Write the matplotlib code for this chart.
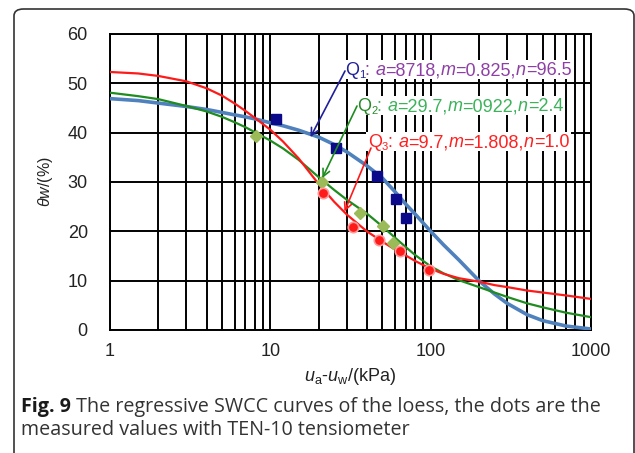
import numpy as np
import matplotlib
matplotlib.use("Agg")
import matplotlib.pyplot as plt
from matplotlib.patches import Rectangle, FancyBboxPatch

plt.rcParams['font.family'] = ['Liberation Sans', 'DejaVu Sans']
plt.rcParams['mathtext.fontset'] = 'custom'
plt.rcParams['mathtext.rm'] = 'Liberation Sans'
plt.rcParams['mathtext.it'] = 'Liberation Sans:italic'

# curves
suction = [1, 1.5, 2, 3, 4, 5, 6, 7, 8, 10, 12, 15, 20, 25, 30, 40, 50, 60, 70, 80,
           100, 120, 150, 200, 250, 300, 400, 500, 700, 1000]
q1_curve = [46.9, 46.5, 46.0, 45.3, 44.7, 44.1, 43.6, 43.2, 42.8, 42.0, 41.4, 40.5, 39.1, 37.6, 36.1,
            33.3, 30.8, 28.0, 25.5, 23.5, 20.0, 17.3, 14.2, 10.0, 7.3, 5.4, 3.1, 1.9, 0.8, 0.2]
q2_curve = [48.1, 47.4, 46.8, 45.4, 44.3, 43.2, 42.1, 41.1, 40.1, 38.4, 36.8, 34.5, 31.0, 28.4, 26.4,
            23.6, 21.0, 18.7, 16.8, 15.2, 12.9, 11.5, 10.1, 8.7, 7.6, 6.7, 5.4, 4.6, 3.5, 2.6]
q3_curve = [52.3, 52.0, 51.5, 50.4, 49.0, 47.5, 45.9, 44.4, 43.0, 40.6, 38.2, 34.8, 29.6, 26.0, 23.4,
            20.0, 17.9, 16.3, 15.1, 14.0, 12.4, 11.4, 10.5, 9.8, 9.1, 8.7, 8.0, 7.6, 7.0, 6.3]

# measured points
q1_x = [10.9, 25.5, 46, 60.4, 69.8]
q1_y = [42.8, 36.9, 31.2, 26.6, 22.7]
q2_x = [8.1, 21.1, 36, 50.1, 57.9]
q2_y = [39.4, 30.0, 23.7, 21.1, 17.6]
q3_x = [21.4, 33, 47.3, 64, 97.2]
q3_y = [27.8, 20.9, 18.3, 16.0, 12.2]

W, H = 635, 453
fig = plt.figure(figsize=(W / 100, H / 100), dpi=100)
ax = fig.add_axes([110 / W, 1 - 330 / H, 481 / W, 296 / H])
ax.set_xscale('log')
ax.set_xlim(1, 1000)
ax.set_ylim(0, 60)
ax.set_yticks(range(0, 61, 10))
ax.set_xticks([1, 10, 100, 1000])
ax.set_xticklabels(['1', '10', '100', '1000'])
ax.set_axisbelow(True)
ax.grid(True, which='both', axis='x', color='black', lw=1.4)
ax.grid(True, which='major', axis='y', color='black', lw=1.4)
ax.tick_params(which='both', length=0, labelsize=13, colors='#222222')
ax.tick_params(axis='y', pad=16)
ax.tick_params(axis='x', pad=9)
for s in ax.spines.values():
    s.set_linewidth(1.4)

ax.plot(suction, q1_curve, color='#4f81bd', lw=2.6, zorder=3)
ax.plot(suction, q2_curve, color='#1e8c1e', lw=1.6, zorder=3)
ax.plot(suction, q3_curve, color='#ff1a1a', lw=1.6, zorder=3)
ax.plot(q1_x, q1_y, 's', color='#0a0a8a', ms=7, zorder=4)
ax.plot(q2_x, q2_y, 'D', color='#9bbb59', ms=6, zorder=4)
ax.plot(q3_x, q3_y, 'o', color='#ff1a1a', mec='#ff9a9a', mew=1.2, ms=7.5, zorder=4)

ax.set_xlabel(r'$u_{\rm a}$-$u_{\rm w}$/(kPa)', fontsize=13, labelpad=5, color='#222222')
ax.set_ylabel(r'$θw$/(%)', fontsize=11.5, labelpad=9, color='#222222')

renderer = fig.canvas.get_renderer()


def rich(x, y, pieces, fs, family='Liberation Sans', box=False):
    # x, y in image pixels (y from top, baseline)
    x0 = x
    for txt, col, style, weight, sub in pieces:
        size = fs * 0.62 if sub else fs
        yy = y + (3 if sub else 0)
        t = fig.text(x / W, 1 - yy / H, txt, color=col, fontsize=size, style=style,
                     weight=weight, family=family, va='baseline', ha='left', zorder=5)
        x += t.get_window_extent(renderer).width
    if box:
        ax.add_patch(Rectangle(((x0 - 2) / W, 1 - (y + 4) / H), (x - x0 + 4) / W, 19 / H,
                               transform=fig.transFigure, facecolor='white',
                               edgecolor='none', zorder=1))
    return x


rich(345, 75, [('Q', '#1f1f9a', 'normal', 'normal', False),
               ('1', '#1f1f9a', 'normal', 'normal', True),
               (': ', '#8e3fa5', 'normal', 'normal', False),
               ('a', '#8e3fa5', 'italic', 'normal', False),
               ('=8718,', '#8e3fa5', 'normal', 'normal', False),
               ('m', '#8e3fa5', 'italic', 'normal', False),
               ('=0.825,', '#8e3fa5', 'normal', 'normal', False),
               ('n', '#8e3fa5', 'italic', 'normal', False),
               ('=96.5', '#8e3fa5', 'normal', 'normal', False)], 13, box=True)
rich(357, 111, [('Q', '#2a8a2a', 'normal', 'normal', False),
                ('2', '#2a8a2a', 'normal', 'normal', True),
                (': ', '#3cb35a', 'normal', 'normal', False),
                ('a', '#3cb35a', 'italic', 'normal', False),
                ('=29.7,', '#3cb35a', 'normal', 'normal', False),
                ('m', '#3cb35a', 'italic', 'normal', False),
                ('=0922,', '#3cb35a', 'normal', 'normal', False),
                ('n', '#3cb35a', 'italic', 'normal', False),
                ('=2.4', '#3cb35a', 'normal', 'normal', False)], 13, box=True)
rich(368, 147, [('Q', '#ff2020', 'normal', 'normal', False),
                ('3', '#ff2020', 'normal', 'normal', True),
                (': ', '#ff2020', 'normal', 'normal', False),
                ('a', '#ff2020', 'italic', 'normal', False),
                ('=9.7,', '#ff2020', 'normal', 'normal', False),
                ('m', '#ff2020', 'italic', 'normal', False),
                ('=1.808,', '#ff2020', 'normal', 'normal', False),
                ('n', '#ff2020', 'italic', 'normal', False),
                ('=1.0', '#ff2020', 'normal', 'normal', False)], 13, box=True)

# arrows from labels to curves
arrows = [((345, 71), (17.8, 39.1), '#1f1f9a'),
          ((357, 106), (21.1, 30.8), '#1e8c1e'),
          ((371, 148), (29.0, 24.0), '#ff1a1a')]
for (px, py), tip, col in arrows:
    ax.annotate('', xy=tip, xytext=(px / W, 1 - py / H), textcoords='figure fraction',
                arrowprops=dict(arrowstyle='->', color=col, lw=1.2, mutation_scale=13,
                                shrinkA=0, shrinkB=0), zorder=5)

# caption
rich(21, 412, [('Fig. 9', '#1a1a1a', 'normal', 'bold', False),
               (' The regressive SWCC curves of the loess, the dots are the', '#333333',
                'normal', 'normal', False)], 14.2, family='Open Sans')
rich(21, 435, [('measured values with TEN-10 tensiometer', '#333333', 'normal', 'normal', False)],
     14.2, family='Open Sans')

frame = FancyBboxPatch((14 / W, -10 / H), 620 / W, (H - 9 + 10) / H,
                       boxstyle='round,pad=0,rounding_size=0.015',
                       transform=fig.transFigure, facecolor='none',
                       edgecolor='#333333', lw=1.2)
fig.patches.append(frame)

fig.savefig('out.png', dpi=100)
